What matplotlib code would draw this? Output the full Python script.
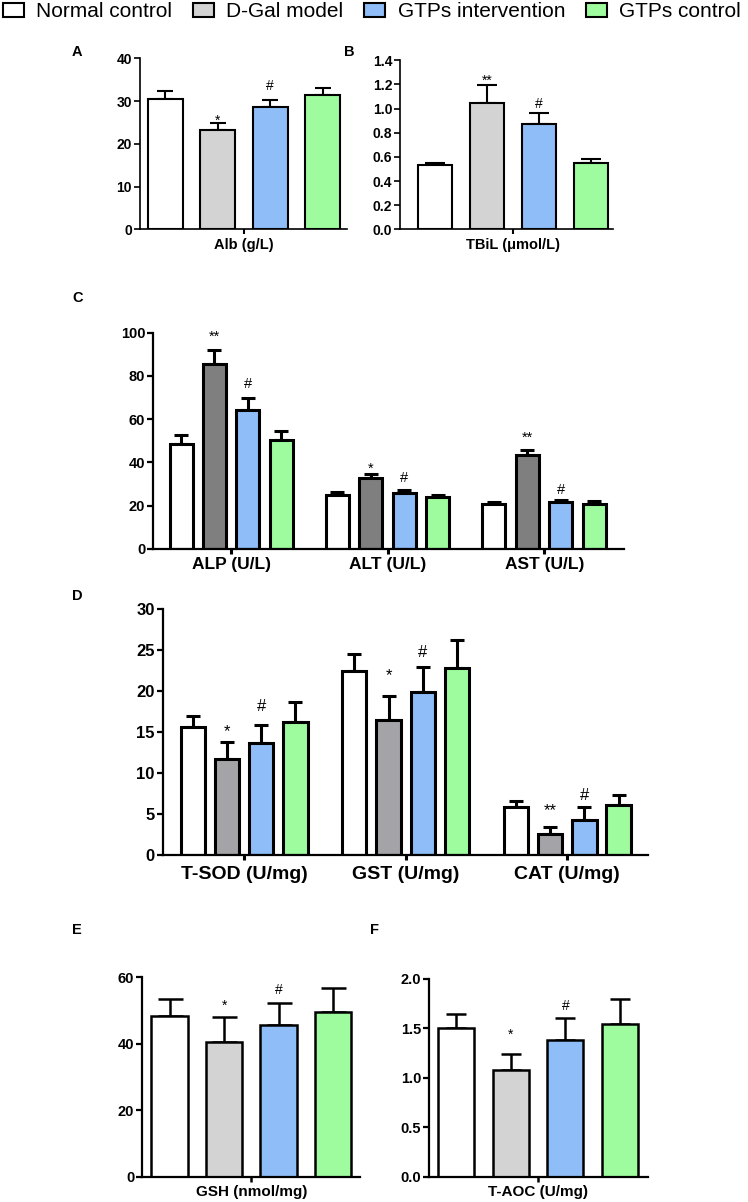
import numpy as np
import matplotlib
matplotlib.use("Agg")
import matplotlib.pyplot as plt
from matplotlib.patches import Patch

plt.rcParams['font.family'] = ['Liberation Sans', 'DejaVu Sans']

W, H = 748, 1202

groups = ['Normal control', 'D-Gal model', 'GTPs intervention', 'GTPs control']

# panel A / B
alb_mean = [30.5, 23.3, 28.6, 31.4]
alb_err = [1.9, 1.6, 1.7, 1.7]
tbil_mean = [0.536, 1.05, 0.873, 0.552]
tbil_err = [0.016, 0.143, 0.094, 0.031]

# panel C (liver enzymes)
enzyme_labels = ['ALP (U/L)', 'ALT (U/L)', 'AST (U/L)']
enzyme_mean = [[48.5, 85.4, 64.4, 50.4],
               [24.8, 32.8, 25.7, 23.9],
               [20.6, 43.3, 21.7, 21.0]]
enzyme_err = [[4.2, 6.4, 5.6, 4.1],
              [1.4, 2.0, 1.4, 1.2],
              [1.0, 2.3, 1.1, 1.2]]

# panel D (antioxidant enzymes)
antiox_labels = ['T-SOD (U/mg)', 'GST (U/mg)', 'CAT (U/mg)']
antiox_mean = [[15.7, 11.75, 13.66, 16.3],
               [22.5, 16.5, 19.9, 22.9],
               [5.93, 2.6, 4.35, 6.1]]
antiox_err = [[1.3, 2.05, 2.2, 2.4],
              [2.05, 2.9, 3.05, 3.3],
              [0.7, 0.9, 1.5, 1.3]]

# panel E / F
gsh_mean = [48.35, 40.5, 45.5, 49.45]
gsh_err = [5.25, 7.5, 6.9, 7.45]
taoc_mean = [1.50, 1.08, 1.38, 1.54]
taoc_err = [0.145, 0.165, 0.23, 0.26]

# significance marks: (category, bar, symbol, y)
marks_a = [(0, 1, '*', 26.3), (0, 2, '#', 33.7)]
marks_b = [(0, 1, '**', 1.259), (0, 2, '#', 1.044)]
marks_c = [(0, 1, '**', 100.0), (0, 2, '#', 76.6),
           (1, 1, '*', 39.3), (1, 2, '#', 33.4),
           (2, 1, '**', 53.5), (2, 2, '#', 28.0)]
marks_d = [(0, 1, '*', 15.7), (0, 2, '#', 18.25),
           (1, 1, '*', 22.5), (1, 2, '#', 24.9),
           (2, 1, '**', 6.0), (2, 2, '#', 7.44)]
marks_e = [(0, 1, '*', 52.5), (0, 2, '#', 56.4)]
marks_f = [(0, 1, '*', 1.48), (0, 2, '#', 1.74)]

white = '#ffffff'
blue = '#8fbdf7'
green = '#9efc9e'
light_gray = '#d3d3d3'
dark_gray = '#7f7f7f'
mid_gray = '#a3a3a8'


fig = plt.figure(figsize=(W / 100, H / 100), dpi=100)


def px_axes(x0, x1, ytop, ybot):
    return fig.add_axes([x0 / W, 1 - ybot / H, (x1 - x0) / W, (ybot - ytop) / H])


def style_axes(ax, lw, tick_fs, ylim, yticks, fmt):
    for s in ['top', 'right']:
        ax.spines[s].set_visible(False)
    ax.spines['left'].set_linewidth(lw)
    ax.spines['bottom'].set_linewidth(lw)
    ax.set_ylim(*ylim)
    ax.set_yticks(yticks)
    ax.set_yticklabels([fmt.format(t) for t in yticks], fontsize=tick_fs, fontweight='bold')
    ax.tick_params(axis='y', length=4.5, width=lw, pad=1)


def put_marks(ax, xpos, marks, fs):
    for cat, bar, sym, y in marks:
        # place the glyph's visual centre at y
        shift = -0.57 * fs if '*' in sym else -0.35 * fs
        ax.annotate(sym, (xpos[cat][bar], y), xytext=(0, shift), textcoords='offset points',
                    ha='center', va='baseline', fontsize=fs)


def single_panel(ax, means, errs, colors, width, xlim, lw, cap, label, label_fs, pad):
    x = np.arange(len(means))
    ax.bar(x, means, width, color=colors, edgecolor='black', linewidth=lw, zorder=2)
    ax.errorbar(x, means, yerr=[np.zeros(len(errs)), errs], fmt='none', ecolor='black',
                elinewidth=lw, capsize=cap, capthick=lw, zorder=1)
    ax.set_xlim(*xlim)
    ax.set_xticks([(len(means) - 1) / 2])
    ax.set_xticklabels([label], fontsize=label_fs, fontweight='bold')
    ax.tick_params(axis='x', length=3.5, width=lw, pad=pad)
    return [list(x)]


def group_panel(ax, means, errs, colors, step, width, xlim, lw, cap, labels, label_fs, pad):
    xpos = []
    for g in range(len(means)):
        x = g + (np.arange(4) - 1.5) * step
        ax.bar(x, means[g], width, color=colors, edgecolor='black', linewidth=lw, zorder=2)
        ax.errorbar(x, means[g], yerr=[np.zeros(4), errs[g]], fmt='none', ecolor='black',
                    elinewidth=lw, capsize=cap, capthick=lw, zorder=1)
        xpos.append(list(x))
    ax.set_xlim(*xlim)
    ax.set_xticks(range(len(labels)))
    ax.set_xticklabels(labels, fontsize=label_fs, fontweight='bold')
    ax.tick_params(axis='x', length=3.5, width=lw, pad=pad)
    return xpos


# A
ax = px_axes(139.5, 347, 58.3, 229.3)
style_axes(ax, 1.2, 10, (0, 40), [0, 10, 20, 30, 40], '{:g}')
xp = single_panel(ax, alb_mean, alb_err, [white, light_gray, blue, green], 0.667,
                  (-0.49, 3.46), 1.5, 6, 'Alb (g/L)', 10.5, 2.5)
put_marks(ax, xp, marks_a, 10)

# B
ax = px_axes(400, 613, 60.3, 229.3)
style_axes(ax, 1.2, 10, (0, 1.4), [0, 0.2, 0.4, 0.6, 0.8, 1.0, 1.2, 1.4], '{:.1f}')
xp = single_panel(ax, tbil_mean, tbil_err, [white, light_gray, blue, green], 0.657,
                  (-0.68, 3.43), 1.5, 7.5, 'TBiL (μmol/L)', 10.5, 2.5)
put_marks(ax, xp, marks_b, 10)

# C
ax = px_axes(153, 624, 332.7, 549)
style_axes(ax, 1.6, 10.5, (0, 100), [0, 20, 40, 60, 80, 100], '{:g}')
xp = group_panel(ax, enzyme_mean, enzyme_err, [white, dark_gray, blue, green], 0.214, 0.147,
                 (-0.5, 2.51), 2.2, 5, enzyme_labels, 12.5, 2)
put_marks(ax, xp, marks_c, 10.5)

# D
ax = px_axes(162.5, 648, 609.3, 855.3)
style_axes(ax, 1.6, 12, (0, 30), [0, 5, 10, 15, 20, 25, 30], '{:g}')
xp = group_panel(ax, antiox_mean, antiox_err, [white, mid_gray, blue, green], 0.212, 0.151,
                 (-0.505, 2.5), 2.2, 4.7, antiox_labels, 14, 4)
put_marks(ax, xp, marks_d, 12)

# E
ax = px_axes(142, 360, 977.3, 1176.7)
style_axes(ax, 1.6, 10.5, (0, 60), [0, 20, 40, 60], '{:g}')
xp = single_panel(ax, gsh_mean, gsh_err, [white, light_gray, blue, green], 0.67,
                  (-0.505, 3.495), 1.8, 9, 'GSH (nmol/mg)', 11, 2.7)
put_marks(ax, xp, marks_e, 10)

# F
ax = px_axes(429, 647.5, 979, 1176.7)
style_axes(ax, 1.6, 10.5, (0, 2.0), [0, 0.5, 1.0, 1.5, 2.0], '{:.1f}')
xp = single_panel(ax, taoc_mean, taoc_err, [white, light_gray, blue, green], 0.66,
                  (-0.49, 3.5), 1.8, 7.4, 'T-AOC (U/mg)', 11, 2.7)
put_marks(ax, xp, marks_f, 10)

# panel letters
for letter, px, py in [('A', 72, 52), ('B', 344, 52), ('C', 72, 298),
                       ('D', 72, 596), ('E', 72, 930), ('F', 370, 930)]:
    fig.text(px / W, 1 - py / H, letter, fontsize=10.5, fontweight='bold', ha='left', va='center')

# legend across the top
handles = [Patch(facecolor=c, edgecolor='black', linewidth=1.5) for c in [white, light_gray, blue, green]]
fig.legend(handles, groups, loc='upper left', bbox_to_anchor=(3 / W, 1 - 2 / H), ncol=4,
           frameon=False, fontsize=15, handlelength=1.0, handleheight=0.65, handletextpad=0.6,
           columnspacing=1.0, borderpad=0, borderaxespad=0)

fig.savefig('out.png', dpi=100)
